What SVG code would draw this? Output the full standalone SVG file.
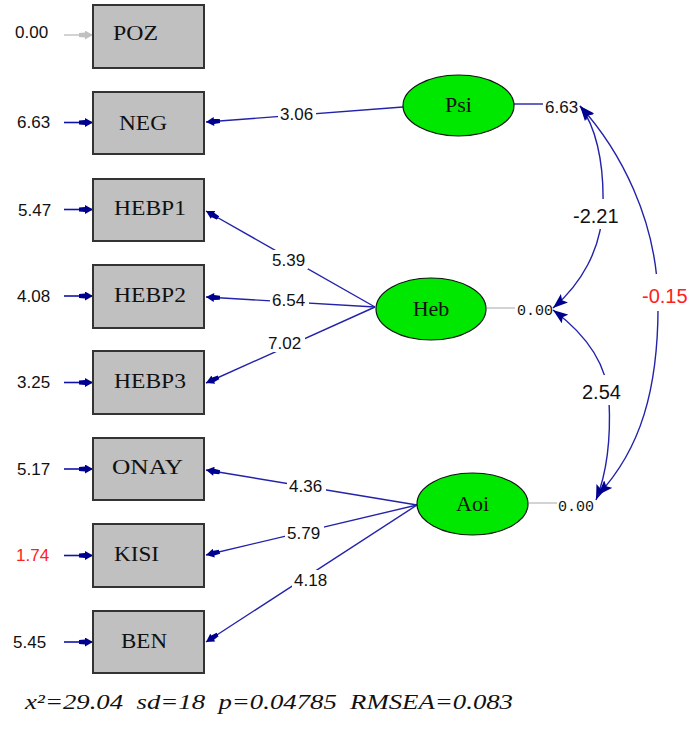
<svg xmlns="http://www.w3.org/2000/svg" width="693" height="729" viewBox="0 0 693 729">
<style>
.box{fill:#c0c0c0;stroke:#333;stroke-width:2}
.ell{fill:#00e800;stroke:#111;stroke-width:1.2}
.nt{font-family:"Liberation Serif","Times New Roman",serif;font-size:22px;fill:#111}
.num{font-family:"Liberation Sans",Arial,sans-serif;font-size:17px;fill:#111}
.cv{font-family:"Liberation Sans",Arial,sans-serif;font-size:20px;fill:#111}
.bg{fill:#fff}
.red{fill:#ff2020}
.mono{font-family:"Liberation Mono","Courier New",monospace;font-size:15px;fill:#111}
.ln{fill:none;stroke:#2222aa;stroke-width:1.4}
.gray{fill:none;stroke:#c8c8c8;stroke-width:1.6}
.err{fill:none;stroke:#1111aa;stroke-width:1.6}
.fit{font-family:"Liberation Serif","Times New Roman",serif;font-style:italic;font-size:22px;fill:#111;white-space:pre}
</style>
<defs>
<marker id="ah" viewBox="0 0 14 9" refX="14" refY="4.5" markerWidth="14" markerHeight="9" markerUnits="userSpaceOnUse" orient="auto-start-reverse">
<polygon points="0,2.5 6,2 6,0 14,4.5 6,9 6,7 0,6.5" fill="#00008f"/>
</marker>
<marker id="ahg" viewBox="0 0 14 9" refX="14" refY="4.5" markerWidth="14" markerHeight="9" markerUnits="userSpaceOnUse" orient="auto">
<polygon points="0,2.5 6,2 6,0 14,4.5 6,9 6,7 0,6.5" fill="#c0c0c0"/>
</marker>
<marker id="ahc" viewBox="0 0 15 11" refX="15" refY="5.5" markerWidth="15" markerHeight="11" markerUnits="userSpaceOnUse" orient="auto-start-reverse">
<polygon points="0,0 15,5.5 0,11 3,5.5" fill="#00008f"/>
</marker>
</defs>

<g id="connectors">
<line class="gray" x1="64" y1="35" x2="93" y2="35" marker-end="url(#ahg)"/>
<line class="err" x1="64" y1="122.5" x2="93" y2="122.5" marker-end="url(#ah)"/>
<line class="err" x1="64" y1="209.5" x2="93" y2="209.5" marker-end="url(#ah)"/>
<line class="err" x1="64" y1="296" x2="93" y2="296" marker-end="url(#ah)"/>
<line class="err" x1="64" y1="382.5" x2="93" y2="382.5" marker-end="url(#ah)"/>
<line class="err" x1="64" y1="469" x2="93" y2="469" marker-end="url(#ah)"/>
<line class="err" x1="64" y1="555.5" x2="93" y2="555.5" marker-end="url(#ah)"/>
<line class="err" x1="64" y1="642" x2="93" y2="642" marker-end="url(#ah)"/>

<line class="ln" x1="403" y1="107" x2="206" y2="122" marker-end="url(#ah)"/>
<line class="ln" x1="375" y1="307" x2="206" y2="211" marker-end="url(#ah)"/>
<line class="ln" x1="375" y1="307" x2="206" y2="297" marker-end="url(#ah)"/>
<line class="ln" x1="375" y1="307" x2="206" y2="383" marker-end="url(#ah)"/>
<line class="ln" x1="417" y1="505" x2="206" y2="470" marker-end="url(#ah)"/>
<line class="ln" x1="417" y1="505" x2="206" y2="555" marker-end="url(#ah)"/>
<line class="ln" x1="417" y1="505" x2="206" y2="642" marker-end="url(#ah)"/>

<line class="ln" x1="514" y1="104" x2="543" y2="104"/>
<line class="gray" x1="487" y1="308" x2="515" y2="308"/>
<line class="gray" x1="529" y1="503" x2="557" y2="503"/>

<path class="ln" d="M580,106 C595,125 604,160 603,205 C602,250 580,285 553,308" marker-start="url(#ahc)" marker-end="url(#ahc)"/>
<path class="ln" d="M553,310 C580,330 607,360 609,400 C611,440 606,475 596,500" marker-start="url(#ahc)" marker-end="url(#ahc)"/>
<path class="ln" d="M580,106 C620,150 657,220 658,300 C659,390 640,450 598,495" marker-start="url(#ahc)" marker-end="url(#ahc)"/>

<rect class="bg" x="278" y="104" width="38" height="19"/>
<rect class="bg" x="270" y="250" width="38" height="19"/>
<rect class="bg" x="270" y="290" width="39" height="19"/>
<rect class="bg" x="266" y="333" width="39" height="19"/>
<rect class="bg" x="287" y="476" width="39" height="19"/>
<rect class="bg" x="285" y="523" width="39" height="19"/>
<rect class="bg" x="292" y="570" width="38" height="19"/>
<rect class="bg" x="571" y="199" width="50" height="30"/>
<rect class="bg" x="580" y="375" width="42" height="30"/>
<rect class="bg" x="640" y="274" width="50" height="37"/>

<text class="num" x="280" y="120">3.06</text>
<text class="num" x="272" y="266">5.39</text>
<text class="num" x="272" y="306">6.54</text>
<text class="num" x="268" y="349">7.02</text>
<text class="num" x="289" y="492">4.36</text>
<text class="num" x="287" y="539">5.79</text>
<text class="num" x="294" y="586">4.18</text>
<text class="cv" x="573" y="223">-2.21</text>
<text class="cv" x="582" y="399">2.54</text>
<text class="cv red" x="642" y="303">-0.15</text>
</g>

<g id="POZ"><rect class="box" x="93" y="5" width="111" height="63"/><text class="nt" x="113" y="40" textLength="45" lengthAdjust="spacingAndGlyphs">POZ</text><text class="num" x="15" y="38">0.00</text></g>
<g id="NEG"><rect class="box" x="93" y="92" width="111" height="62"/><text class="nt" x="119" y="130" textLength="48" lengthAdjust="spacingAndGlyphs">NEG</text><text class="num" x="17" y="128">6.63</text></g>
<g id="HEBP1"><rect class="box" x="93" y="179" width="111" height="62"/><text class="nt" x="114" y="215" textLength="72" lengthAdjust="spacingAndGlyphs">HEBP1</text><text class="num" x="18" y="216">5.47</text></g>
<g id="HEBP2"><rect class="box" x="93" y="265" width="111" height="63"/><text class="nt" x="114" y="302" textLength="72" lengthAdjust="spacingAndGlyphs">HEBP2</text><text class="num" x="17" y="302">4.08</text></g>
<g id="HEBP3"><rect class="box" x="93" y="351" width="111" height="63"/><text class="nt" x="114" y="388" textLength="72" lengthAdjust="spacingAndGlyphs">HEBP3</text><text class="num" x="17" y="388">3.25</text></g>
<g id="ONAY"><rect class="box" x="93" y="438" width="111" height="62"/><text class="nt" x="112" y="474" textLength="71" lengthAdjust="spacingAndGlyphs">ONAY</text><text class="num" x="17" y="475">5.17</text></g>
<g id="KISI"><rect class="box" x="93" y="524" width="111" height="63"/><text class="nt" x="114" y="561" textLength="45" lengthAdjust="spacingAndGlyphs">KISI</text><text class="num red" x="16" y="561">1.74</text></g>
<g id="BEN"><rect class="box" x="93" y="611" width="111" height="62"/><text class="nt" x="121" y="648" textLength="46" lengthAdjust="spacingAndGlyphs">BEN</text><text class="num" x="13" y="648">5.45</text></g>

<g id="Psi"><ellipse class="ell" cx="458.5" cy="105.5" rx="55.5" ry="30.5"/><text class="nt" x="458.5" y="112" text-anchor="middle" font-size="21">Psi</text><text class="num" x="545" y="113" font-size="14">6.63</text></g>
<g id="Heb"><ellipse class="ell" cx="431" cy="309" rx="55" ry="31"/><text class="nt" x="431" y="316" text-anchor="middle" font-size="21">Heb</text><text class="mono" x="517" y="315">0.00</text></g>
<g id="Aoi"><ellipse class="ell" cx="472.5" cy="504" rx="55.5" ry="31"/><text class="nt" x="472.5" y="511" text-anchor="middle" font-size="21">Aoi</text><text class="mono" x="558" y="511">0.00</text></g>

<text class="fit" x="25" y="709" textLength="488" lengthAdjust="spacingAndGlyphs">x²=29.04  sd=18  p=0.04785  RMSEA=0.083</text>
</svg>
